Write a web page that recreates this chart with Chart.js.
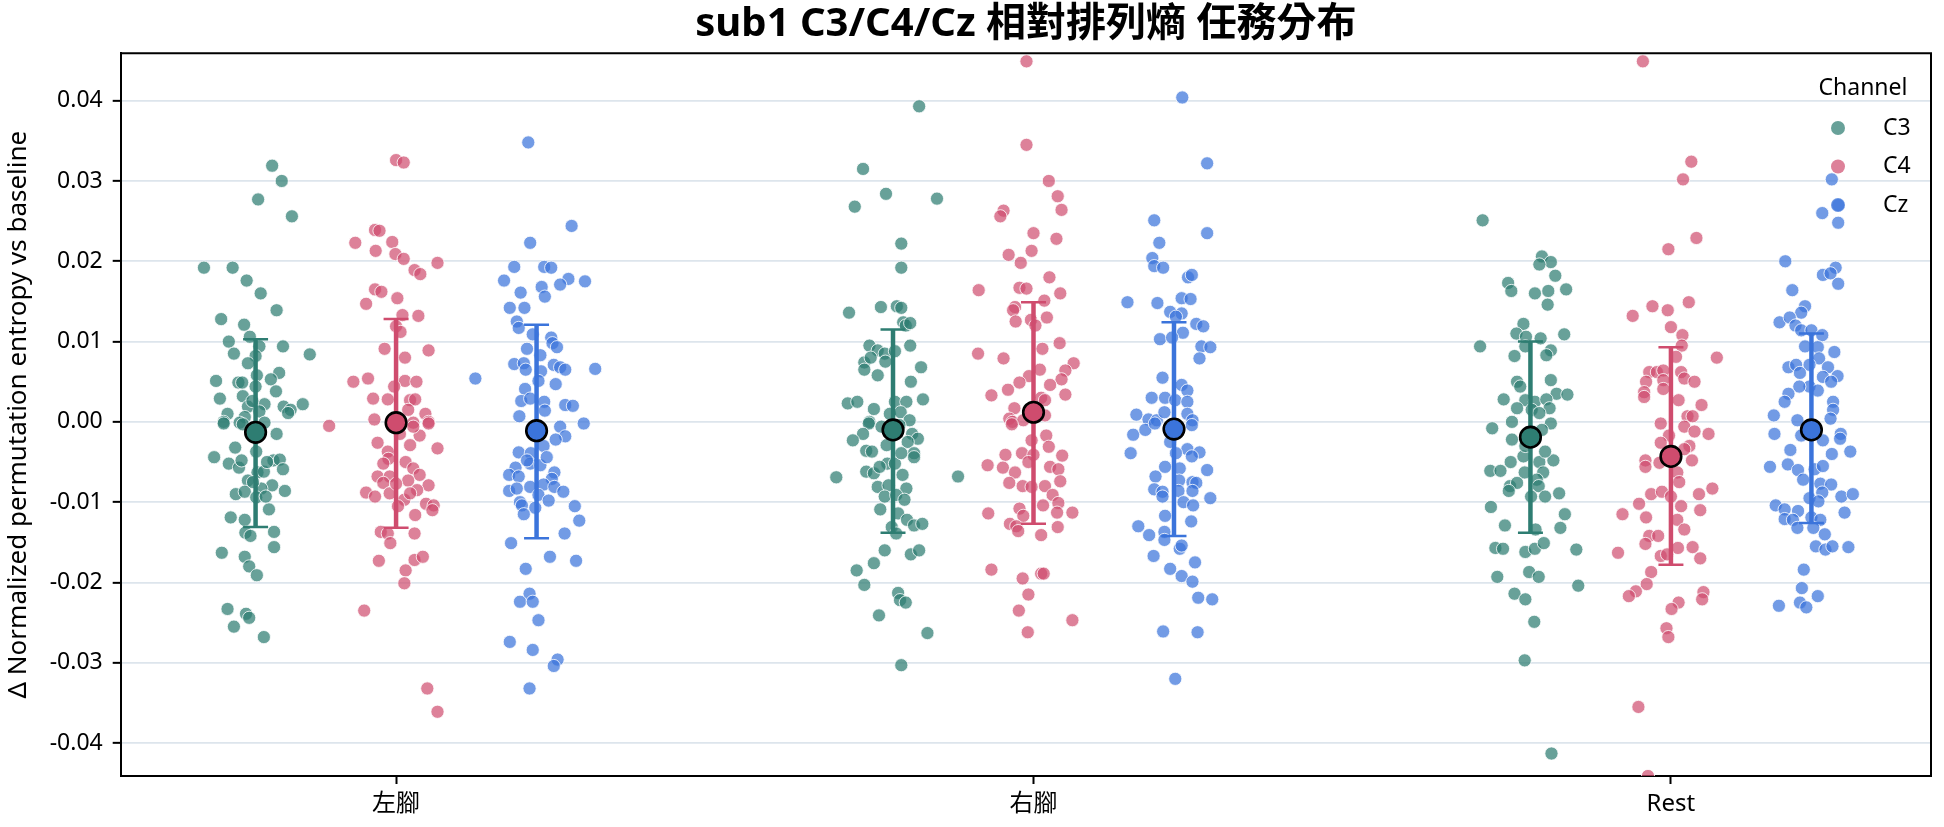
<!DOCTYPE html>
<html>
<head>
<meta charset="utf-8">
<script src="https://cdn.jsdelivr.net/npm/chart.js@4.4.1/dist/chart.umd.min.js"></script>
<style>
  html, body { margin: 0; padding: 0; background: #fff; }
</style>
</head>
<body>
<canvas id="chart" width="1944" height="827"></canvas>
<script>
const categories = ['左腳', '右腳', 'Rest'];
const channels = ['C3', 'C4', 'Cz'];
const yTicks = [-0.04, -0.03, -0.02, -0.01, 0, 0.01, 0.02, 0.03, 0.04];

// each point: [jitter offset (category units), value]
const c3Left = [[0.026,0.0319],[0.041,0.0300],[0.004,0.0277],[0.057,0.0256],[-0.081,0.0192],[-0.036,0.0192],[-0.014,0.0176],[0.008,0.0160],[0.033,0.0139],[-0.054,0.0128],[-0.018,0.0121],[-0.042,0.0100],[-0.009,0.0106],[0.006,0.0094],[0.043,0.0094],[-0.034,0.0085],[0.085,0.0084],[0.000,0.0082],[-0.012,0.0073],[0.002,0.0058],[0.037,0.0061],[-0.062,0.0051],[-0.027,0.0049],[-0.021,0.0049],[0.024,0.0053],[0.000,0.0044],[0.032,0.0038],[-0.056,0.0029],[-0.020,0.0032],[0.014,0.0022],[-0.012,0.0019],[-0.005,0.0026],[0.044,0.0019],[0.055,0.0015],[0.051,0.0011],[0.074,0.0022],[-0.044,0.0010],[-0.050,0.0000],[-0.017,0.0006],[0.006,0.0013],[0.014,-0.0001],[-0.025,-0.0001],[0.033,-0.0015],[-0.032,-0.0032],[0.001,-0.0037],[-0.065,-0.0044],[-0.042,-0.0052],[-0.026,-0.0057],[0.028,-0.0048],[0.038,-0.0047],[0.043,-0.0059],[0.003,-0.0063],[0.013,-0.0062],[-0.012,-0.0073],[0.026,-0.0079],[0.009,-0.0083],[0.046,-0.0086],[-0.031,-0.0090],[-0.017,-0.0087],[0.001,-0.0094],[0.021,-0.0109],[-0.039,-0.0119],[-0.017,-0.0122],[-0.016,-0.0138],[-0.008,-0.0142],[0.029,-0.0137],[-0.053,-0.0163],[0.029,-0.0156],[-0.017,-0.0168],[-0.010,-0.0180],[0.002,-0.0191],[-0.044,-0.0233],[-0.015,-0.0239],[-0.010,-0.0244],[-0.034,-0.0255],[0.013,-0.0268],[-0.050,-0.0002],[-0.020,-0.0003],[0.018,-0.0050],[-0.004,-0.0075],[0.016,-0.0093],[-0.022,-0.0048]];
const c3Right = [[0.041,0.0393],[-0.047,0.0315],[-0.011,0.0284],[-0.060,0.0268],[0.069,0.0278],[0.013,0.0222],[0.013,0.0192],[-0.069,0.0136],[-0.019,0.0143],[0.006,0.0144],[0.013,0.0142],[0.016,0.0124],[0.020,0.0120],[0.027,0.0123],[-0.037,0.0095],[-0.024,0.0089],[-0.013,0.0085],[0.003,0.0088],[0.027,0.0095],[-0.045,0.0074],[-0.035,0.0080],[-0.045,0.0065],[-0.024,0.0058],[-0.012,0.0075],[0.044,0.0068],[0.028,0.0050],[-0.071,0.0023],[-0.056,0.0025],[0.003,0.0025],[0.021,0.0025],[0.047,0.0028],[-0.030,0.0016],[-0.005,0.0010],[0.012,0.0012],[-0.037,0.0000],[0.026,0.0002],[-0.038,-0.0002],[-0.047,-0.0015],[-0.063,-0.0023],[0.030,-0.0015],[0.039,-0.0021],[0.023,-0.0025],[-0.042,-0.0036],[-0.033,-0.0037],[-0.010,-0.0029],[0.033,-0.0039],[0.033,-0.0044],[-0.009,-0.0052],[0.003,-0.0052],[-0.042,-0.0062],[-0.030,-0.0064],[0.015,-0.0066],[-0.089,-0.0069],[0.102,-0.0068],[-0.024,-0.0081],[-0.007,-0.0079],[0.021,-0.0083],[-0.013,-0.0093],[0.005,-0.0091],[0.018,-0.0097],[-0.020,-0.0109],[0.008,-0.0114],[0.022,-0.0122],[0.033,-0.0129],[0.046,-0.0127],[-0.002,-0.0131],[0.005,-0.0139],[-0.013,-0.0160],[0.028,-0.0165],[0.041,-0.0160],[-0.030,-0.0176],[-0.057,-0.0185],[-0.045,-0.0203],[0.008,-0.0213],[0.011,-0.0222],[0.020,-0.0225],[-0.022,-0.0241],[0.054,-0.0263],[0.013,-0.0303],[-0.018,-0.0006],[0.010,-0.0004],[0.013,-0.0039],[-0.021,-0.0056]];
const c3Rest = [[-0.075,0.0251],[0.018,0.0206],[0.032,0.0199],[0.014,0.0196],[0.039,0.0182],[-0.035,0.0173],[-0.030,0.0163],[0.007,0.0160],[0.028,0.0163],[0.056,0.0165],[0.027,0.0146],[-0.011,0.0122],[-0.022,0.0110],[-0.007,0.0106],[0.016,0.0104],[0.053,0.0109],[-0.079,0.0094],[-0.008,0.0094],[0.032,0.0089],[-0.025,0.0082],[0.025,0.0083],[-0.021,0.0050],[-0.016,0.0044],[0.032,0.0052],[0.041,0.0035],[0.058,0.0034],[-0.042,0.0028],[-0.008,0.0027],[0.007,0.0025],[0.025,0.0028],[-0.021,0.0017],[0.002,0.0015],[0.030,0.0017],[0.014,0.0011],[-0.060,-0.0008],[-0.029,0.0000],[0.032,-0.0002],[-0.029,-0.0022],[0.002,-0.0012],[0.018,-0.0010],[-0.011,-0.0043],[0.014,-0.0050],[0.036,-0.0048],[-0.031,-0.0050],[-0.063,-0.0061],[-0.047,-0.0061],[0.020,-0.0063],[-0.009,-0.0063],[0.010,-0.0072],[-0.032,-0.0080],[-0.021,-0.0076],[-0.034,-0.0086],[0.013,-0.0080],[0.045,-0.0089],[0.001,-0.0093],[0.023,-0.0093],[-0.062,-0.0106],[0.054,-0.0115],[-0.040,-0.0129],[0.047,-0.0132],[0.008,-0.0134],[-0.055,-0.0157],[-0.043,-0.0158],[-0.008,-0.0162],[0.007,-0.0158],[0.021,-0.0151],[0.072,-0.0159],[-0.002,-0.0187],[0.013,-0.0193],[-0.052,-0.0193],[0.075,-0.0204],[-0.025,-0.0214],[-0.008,-0.0221],[0.006,-0.0249],[-0.009,-0.0297],[0.033,-0.0413],[-0.008,-0.0030],[0.023,-0.0037]];

const c4Left = [[0.000,0.0326],[0.012,0.0323],[-0.033,0.0239],[-0.026,0.0238],[-0.064,0.0223],[-0.006,0.0224],[-0.032,0.0213],[-0.001,0.0209],[0.012,0.0203],[0.065,0.0198],[0.029,0.0189],[0.038,0.0184],[-0.033,0.0165],[-0.023,0.0162],[0.002,0.0154],[-0.047,0.0147],[0.010,0.0133],[0.035,0.0132],[0.000,0.0119],[0.007,0.0112],[0.051,0.0089],[-0.018,0.0091],[0.014,0.0080],[-0.067,0.0050],[-0.044,0.0054],[0.014,0.0051],[0.032,0.0050],[-0.003,0.0044],[-0.036,0.0029],[-0.013,0.0028],[0.022,0.0027],[0.030,0.0028],[0.019,0.0015],[0.046,0.0010],[-0.034,0.0003],[0.051,0.0000],[0.027,-0.0001],[-0.105,-0.0005],[0.037,-0.0017],[-0.029,-0.0026],[0.022,-0.0029],[0.065,-0.0033],[-0.013,-0.0037],[-0.012,-0.0046],[0.015,-0.0050],[0.027,-0.0058],[-0.029,-0.0068],[-0.010,-0.0068],[0.037,-0.0066],[-0.020,-0.0076],[0.019,-0.0073],[0.051,-0.0079],[-0.047,-0.0088],[-0.033,-0.0093],[-0.010,-0.0089],[0.013,-0.0097],[0.033,-0.0085],[0.047,-0.0102],[0.059,-0.0104],[0.003,-0.0105],[0.030,-0.0116],[0.057,-0.0110],[-0.024,-0.0137],[-0.013,-0.0139],[0.029,-0.0139],[-0.009,-0.0151],[-0.027,-0.0173],[0.029,-0.0172],[0.042,-0.0168],[0.015,-0.0185],[0.013,-0.0201],[-0.050,-0.0235],[0.049,-0.0332],[0.065,-0.0361],[0.006,-0.0015],[0.027,-0.0006],[0.051,-0.0002],[-0.020,-0.0052],[0.000,-0.0077],[0.022,-0.0089]];
const c4Right = [[-0.011,0.0449],[-0.011,0.0345],[0.024,0.0300],[0.038,0.0281],[0.044,0.0264],[-0.047,0.0263],[-0.052,0.0256],[0.000,0.0235],[0.036,0.0228],[-0.003,0.0213],[-0.039,0.0208],[-0.020,0.0198],[0.025,0.0180],[-0.086,0.0164],[-0.022,0.0167],[-0.011,0.0166],[0.042,0.0160],[0.017,0.0151],[-0.029,0.0143],[-0.032,0.0139],[-0.028,0.0125],[-0.004,0.0127],[0.021,0.0130],[0.003,0.0120],[0.041,0.0098],[0.014,0.0091],[-0.087,0.0085],[-0.047,0.0079],[0.063,0.0073],[0.010,0.0065],[0.050,0.0064],[-0.007,0.0057],[0.044,0.0053],[-0.022,0.0049],[0.026,0.0046],[-0.040,0.0040],[-0.066,0.0033],[0.050,0.0034],[0.012,0.0030],[0.018,0.0027],[-0.030,0.0017],[-0.038,0.0004],[-0.033,0.0000],[-0.016,0.0002],[0.018,0.0008],[0.020,-0.0017],[-0.034,-0.0003],[-0.044,-0.0041],[-0.018,-0.0039],[0.000,-0.0041],[0.045,-0.0042],[-0.072,-0.0054],[-0.048,-0.0057],[-0.029,-0.0063],[-0.008,-0.0050],[0.026,-0.0056],[0.039,-0.0059],[-0.038,-0.0076],[-0.017,-0.0080],[-0.003,-0.0081],[0.018,-0.0080],[0.042,-0.0074],[0.030,-0.0091],[0.039,-0.0101],[0.015,-0.0104],[-0.022,-0.0108],[-0.071,-0.0114],[0.061,-0.0113],[0.037,-0.0113],[-0.016,-0.0117],[-0.037,-0.0127],[-0.027,-0.0130],[-0.024,-0.0136],[0.038,-0.0131],[0.012,-0.0141],[-0.066,-0.0184],[-0.017,-0.0195],[0.012,-0.0189],[0.016,-0.0189],[-0.008,-0.0215],[-0.023,-0.0235],[0.061,-0.0247],[-0.009,-0.0262],[-0.003,-0.0023],[0.024,-0.0031]];
const c4Rest = [[-0.044,0.0449],[0.032,0.0324],[0.019,0.0302],[0.040,0.0229],[-0.004,0.0215],[0.028,0.0149],[-0.029,0.0144],[-0.005,0.0139],[-0.060,0.0132],[0.000,0.0118],[0.018,0.0108],[0.017,0.0095],[0.072,0.0080],[0.008,0.0081],[-0.034,0.0062],[-0.022,0.0062],[-0.012,0.0064],[0.016,0.0062],[0.021,0.0054],[0.037,0.0050],[-0.039,0.0050],[-0.012,0.0052],[-0.042,0.0037],[-0.012,0.0041],[-0.042,0.0031],[0.012,0.0027],[0.048,0.0021],[0.026,0.0007],[0.034,0.0007],[-0.016,-0.0002],[0.021,-0.0006],[0.059,-0.0015],[0.037,-0.0012],[-0.003,-0.0017],[-0.016,-0.0026],[0.029,-0.0030],[0.033,-0.0048],[-0.040,-0.0048],[-0.040,-0.0056],[-0.018,-0.0051],[0.010,-0.0063],[0.013,-0.0075],[0.065,-0.0083],[0.044,-0.0090],[-0.031,-0.0090],[-0.014,-0.0087],[0.000,-0.0093],[0.016,-0.0105],[-0.050,-0.0102],[-0.076,-0.0115],[-0.039,-0.0119],[0.046,-0.0110],[0.010,-0.0122],[0.021,-0.0134],[-0.034,-0.0142],[-0.020,-0.0142],[-0.040,-0.0152],[0.011,-0.0157],[0.034,-0.0156],[-0.083,-0.0163],[-0.016,-0.0167],[-0.006,-0.0165],[0.046,-0.0170],[-0.031,-0.0187],[-0.038,-0.0202],[-0.055,-0.0211],[-0.066,-0.0217],[0.051,-0.0212],[0.049,-0.0221],[0.012,-0.0225],[0.001,-0.0233],[-0.007,-0.0257],[-0.004,-0.0268],[-0.051,-0.0355],[-0.036,-0.0441],[0.021,-0.0034]];

const czLeft = [[-0.013,0.0348],[0.055,0.0244],[-0.010,0.0223],[-0.035,0.0193],[0.012,0.0193],[0.023,0.0192],[-0.051,0.0176],[0.050,0.0178],[0.076,0.0175],[0.037,0.0171],[-0.025,0.0161],[0.008,0.0168],[0.013,0.0156],[-0.042,0.0142],[-0.019,0.0142],[-0.031,0.0125],[-0.028,0.0117],[-0.006,0.0109],[0.023,0.0105],[0.025,0.0098],[0.032,0.0093],[-0.015,0.0091],[0.006,0.0083],[-0.035,0.0072],[-0.020,0.0073],[-0.017,0.0065],[0.007,0.0063],[0.027,0.0071],[0.037,0.0068],[0.045,0.0065],[0.092,0.0066],[-0.096,0.0054],[0.003,0.0051],[0.030,0.0047],[-0.018,0.0041],[-0.024,0.0026],[-0.010,0.0029],[0.012,0.0025],[0.013,0.0014],[0.045,0.0021],[0.057,0.0020],[-0.027,0.0007],[0.074,-0.0002],[0.037,-0.0006],[0.045,-0.0018],[0.030,-0.0022],[0.011,-0.0030],[-0.028,-0.0038],[-0.009,-0.0039],[-0.010,-0.0052],[0.006,-0.0054],[-0.033,-0.0057],[-0.043,-0.0066],[-0.028,-0.0068],[0.028,-0.0063],[0.024,-0.0071],[-0.010,-0.0081],[0.011,-0.0078],[0.028,-0.0081],[0.042,-0.0087],[-0.043,-0.0086],[-0.031,-0.0083],[0.003,-0.0091],[0.019,-0.0098],[-0.026,-0.0100],[-0.023,-0.0104],[-0.002,-0.0107],[0.060,-0.0105],[-0.020,-0.0115],[0.067,-0.0123],[0.044,-0.0139],[-0.040,-0.0151],[0.021,-0.0168],[0.062,-0.0173],[-0.017,-0.0183],[-0.011,-0.0214],[-0.026,-0.0224],[-0.006,-0.0224],[0.003,-0.0247],[-0.042,-0.0274],[-0.006,-0.0284],[0.033,-0.0296],[0.027,-0.0304],[-0.011,-0.0332],[-0.015,-0.0048],[0.016,-0.0044]];
const czRight = [[0.013,0.0404],[0.052,0.0322],[-0.031,0.0251],[0.052,0.0235],[-0.023,0.0223],[-0.034,0.0204],[-0.031,0.0194],[-0.017,0.0192],[0.022,0.0180],[0.028,0.0183],[-0.073,0.0149],[-0.026,0.0148],[0.012,0.0154],[0.026,0.0153],[-0.006,0.0137],[0.012,0.0135],[0.003,0.0131],[0.035,0.0122],[0.046,0.0119],[0.014,0.0111],[-0.022,0.0103],[-0.003,0.0105],[0.043,0.0094],[0.057,0.0093],[0.040,0.0079],[-0.018,0.0055],[0.012,0.0046],[0.021,0.0039],[-0.035,0.0030],[-0.014,0.0030],[0.002,0.0027],[0.021,0.0025],[-0.059,0.0009],[-0.040,0.0003],[-0.027,0.0002],[-0.015,0.0012],[0.021,0.0010],[0.029,0.0002],[-0.064,-0.0016],[-0.045,-0.0010],[-0.068,-0.0039],[0.028,-0.0004],[-0.006,-0.0025],[0.021,-0.0034],[0.040,-0.0038],[0.028,-0.0043],[0.003,-0.0039],[-0.014,-0.0056],[0.009,-0.0058],[0.052,-0.0060],[-0.029,-0.0068],[0.029,-0.0075],[0.035,-0.0076],[0.008,-0.0073],[-0.031,-0.0084],[-0.018,-0.0087],[0.007,-0.0086],[0.029,-0.0086],[-0.018,-0.0093],[0.015,-0.0100],[0.057,-0.0095],[0.030,-0.0104],[-0.014,-0.0117],[0.027,-0.0124],[-0.056,-0.0130],[-0.039,-0.0141],[-0.015,-0.0137],[-0.015,-0.0147],[0.009,-0.0158],[0.012,-0.0154],[-0.032,-0.0167],[0.033,-0.0175],[-0.006,-0.0183],[0.012,-0.0192],[0.029,-0.0199],[0.038,-0.0219],[0.060,-0.0221],[-0.017,-0.0261],[0.037,-0.0262],[0.002,-0.0320],[-0.030,-0.0002]];
const czRest = [[0.032,0.0302],[0.042,0.0270],[0.017,0.0260],[0.042,0.0248],[-0.041,0.0200],[0.018,0.0183],[0.038,0.0192],[0.042,0.0172],[0.030,0.0185],[-0.030,0.0164],[-0.010,0.0144],[-0.016,0.0136],[-0.050,0.0124],[-0.034,0.0130],[-0.025,0.0120],[-0.016,0.0114],[0.000,0.0114],[0.017,0.0108],[-0.010,0.0094],[0.010,0.0093],[0.036,0.0087],[0.012,0.0079],[-0.003,0.0071],[0.026,0.0068],[-0.036,0.0068],[-0.024,0.0071],[-0.018,0.0061],[0.018,0.0056],[0.041,0.0057],[0.031,0.0050],[-0.003,0.0044],[-0.019,0.0044],[0.010,0.0039],[-0.036,0.0035],[-0.042,0.0025],[0.034,0.0025],[0.034,0.0015],[-0.059,0.0008],[-0.022,0.0002],[0.030,0.0004],[-0.058,-0.0015],[-0.016,-0.0017],[0.018,-0.0023],[0.046,-0.0015],[0.045,-0.0021],[-0.033,-0.0035],[0.061,-0.0037],[0.032,-0.0040],[-0.065,-0.0056],[-0.037,-0.0053],[-0.021,-0.0060],[0.005,-0.0059],[0.018,-0.0055],[-0.013,-0.0072],[0.014,-0.0077],[0.031,-0.0078],[0.017,-0.0088],[0.047,-0.0093],[0.065,-0.0090],[-0.003,-0.0095],[0.011,-0.0099],[-0.056,-0.0104],[-0.042,-0.0109],[-0.021,-0.0111],[0.052,-0.0113],[-0.042,-0.0121],[-0.029,-0.0122],[0.000,-0.0119],[0.014,-0.0122],[-0.022,-0.0132],[0.003,-0.0132],[0.021,-0.0140],[0.007,-0.0155],[0.022,-0.0159],[0.033,-0.0155],[0.058,-0.0156],[-0.012,-0.0184],[-0.015,-0.0207],[0.010,-0.0217],[-0.051,-0.0229],[-0.018,-0.0225],[-0.008,-0.0231]];

// mean and interval per category, for each channel
const meanC3 = [-0.0013, -0.0010, -0.0019];
const meanC4 = [-0.0001, 0.0012, -0.0043];
const meanCz = [-0.0011, -0.0009, -0.0010];
const lowC3 = [-0.0131, -0.0138, -0.0138];
const highC3 = [0.0103, 0.0115, 0.0100];
const lowC4 = [-0.0132, -0.0127, -0.0178];
const highC4 = [0.0128, 0.0149, 0.0093];
const lowCz = [-0.0145, -0.0142, -0.0126];
const highCz = [0.0121, 0.0124, 0.0110];

const FONT = "'Noto Sans', 'Noto Sans CJK TC', sans-serif";
const dodge = [-0.2204, 0, 0.2204];
const capHalf = 0.0196;
const mainColors = ['#2e7d72', '#cf4c6e', '#3b74db'];
const dotColors = ['rgba(46,125,114,0.72)', 'rgba(207,76,110,0.70)', 'rgba(59,116,219,0.72)'];

const pointGroups = [[c3Left, c3Right, c3Rest], [c4Left, c4Right, c4Rest], [czLeft, czRight, czRest]];
const means = [meanC3, meanC4, meanCz];
const lows = [lowC3, lowC4, lowCz];
const highs = [highC3, highC4, highCz];

function jitterPoints(groups, h) {
  const out = [];
  groups.forEach((g, ci) => g.forEach(p => out.push({ x: ci + dodge[h] + p[0], y: p[1] })));
  return out;
}
function stemData(h) {
  const out = [];
  categories.forEach((c, i) => {
    const x = i + dodge[h];
    out.push({ x: x, y: lows[h][i] }, { x: x, y: highs[h][i] }, { x: x, y: null });
  });
  return out;
}
function capData(h) {
  const out = [];
  categories.forEach((c, i) => {
    const x = i + dodge[h];
    [lows[h][i], highs[h][i]].forEach(v => {
      out.push({ x: x - capHalf, y: v }, { x: x + capHalf, y: v }, { x: x, y: null });
    });
  });
  return out;
}

const datasets = [];
channels.forEach((name, h) => {
  datasets.push({
    label: name, type: 'scatter', order: 3,
    data: jitterPoints(pointGroups[h], h),
    pointRadius: 6.6, pointBorderWidth: 1,
    backgroundColor: dotColors[h], borderColor: 'rgba(255,255,255,0.8)'
  });
  datasets.push({
    label: name + ' bar', type: 'line', order: 2, data: stemData(h),
    borderColor: mainColors[h], borderWidth: 4.5, pointRadius: 0, spanGaps: false, fill: false
  });
  datasets.push({
    label: name + ' cap', type: 'line', order: 2, data: capData(h),
    borderColor: mainColors[h], borderWidth: 2.5, pointRadius: 0, spanGaps: false, fill: false
  });
  datasets.push({
    label: name + ' mean', type: 'scatter', order: 1,
    data: means[h].map((m, i) => ({ x: i + dodge[h], y: m })),
    pointRadius: 10.3, pointBorderWidth: 2.6,
    backgroundColor: mainColors[h], borderColor: '#000'
  });
});

const framePlugin = {
  id: 'frame',
  afterDraw(chart) {
    const { ctx, chartArea: a } = chart;
    ctx.save();
    ctx.strokeStyle = '#000';
    ctx.lineWidth = 2;
    ctx.beginPath();
    ctx.moveTo(a.left, a.top);
    ctx.lineTo(a.right, a.top);
    ctx.lineTo(a.right, a.bottom);
    ctx.stroke();

    // legend
    ctx.fillStyle = '#000';
    ctx.font = '23px ' + FONT;
    ctx.textBaseline = 'middle';
    ctx.textAlign = 'center';
    ctx.fillText('Channel', a.right - 68, 88);
    ctx.textAlign = 'left';
    channels.forEach((name, h) => {
      const y = 128 + h * 38.5;
      ctx.beginPath();
      ctx.arc(a.right - 93, y, 7, 0, Math.PI * 2);
      ctx.fillStyle = dotColors[h];
      ctx.fill();
      ctx.fillStyle = '#000';
      ctx.fillText(name, a.right - 48, y);
    });
    ctx.restore();
  }
};

new Chart(document.getElementById('chart'), {
  type: 'scatter',
  data: { datasets: datasets },
  plugins: [framePlugin],
  options: {
    responsive: false,
    animation: false,
    events: [],
    layout: { padding: { top: 0, right: 13, bottom: 0, left: 0 } },
    plugins: {
      legend: { display: false },
      tooltip: { enabled: false },
      title: {
        display: true,
        fullSize: false,
        text: 'sub1 C3/C4/Cz 相對排列熵 任務分布',
        color: '#000',
        font: { family: FONT, size: 40, weight: 'bold' },
        padding: { top: 1, bottom: 4.3 }
      }
    },
    scales: {
      x: {
        type: 'linear',
        min: -0.432,
        max: 2.408,
        afterBuildTicks(scale) { scale.ticks = categories.map((c, i) => ({ value: i })); },
        afterFit(scale) { scale.height = 51; },
        ticks: {
          color: '#000', padding: 6,
          font: { family: FONT, size: 24 },
          callback: v => categories[v]
        },
        grid: { drawOnChartArea: false, tickColor: '#000', tickLength: 8, tickWidth: 2 },
        border: { display: true, color: '#000', width: 2 }
      },
      y: {
        min: -0.0441,
        max: 0.0459,
        afterBuildTicks(scale) { scale.ticks = yTicks.map(v => ({ value: v })); },
        afterFit(scale) { scale.width = 120.7; },
        ticks: {
          color: '#000', padding: 10,
          font: { family: FONT, size: 23 },
          callback: v => v.toFixed(2)
        },
        grid: { color: '#dde5ec', lineWidth: 1.7, tickColor: '#000', tickLength: 8, tickWidth: 2 },
        border: { display: true, color: '#000', width: 2 },
        title: {
          display: true,
          text: 'Δ Normalized permutation entropy vs baseline',
          color: '#000',
          font: { family: FONT, size: 26 },
          padding: { top: 3, bottom: 0 }
        }
      }
    }
  }
});
</script>
</body>
</html>
